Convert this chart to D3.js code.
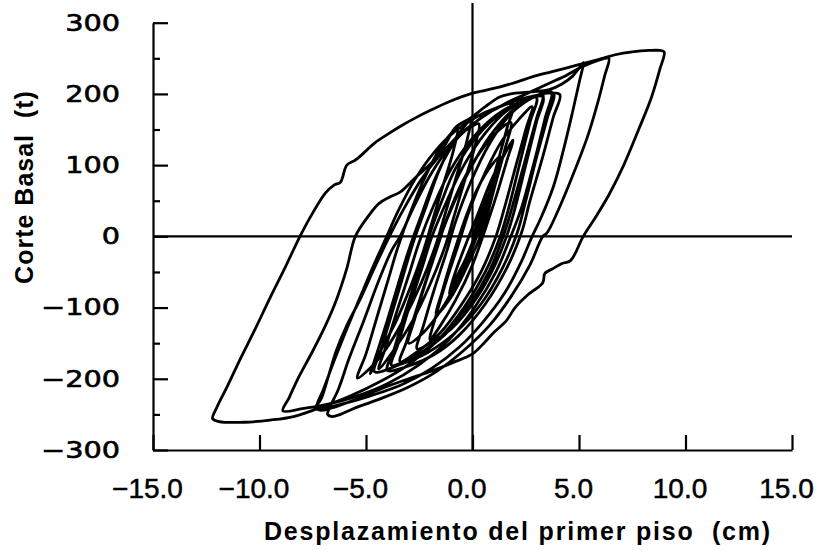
<!DOCTYPE html>
<html>
<head>
<meta charset="utf-8">
<script src="https://cdn.jsdelivr.net/npm/d3@7"></script>
<style>
  body { margin: 0; background: #fff; }
  .ytick text { font-family: "DejaVu Sans", sans-serif; font-size: 23px; stroke: #000; stroke-width: 0.6px; }
  .xtick text { font-family: "Liberation Sans", Arial, sans-serif; font-size: 28px; stroke: #000; stroke-width: 0.5px; }
  .title { font-family: "Liberation Sans", Arial, sans-serif; font-weight: bold; font-size: 25px; white-space: pre; }
</style>
</head>
<body>
<div id="chart"></div>
<script>
// Axis ticks
const yMajorTicks = [-300, -200, -100, 0, 100, 200, 300];
const yMinorTicks = [-250, -150, -50, 50, 150, 250];
const xTicks = [-15, -10, -5, 0, 5, 10, 15];

// Digitised hysteresis record, [displacement (cm), base shear (t)], in time order
const initialCycles = [
  [0.0, 0], [0.3, 25], [0.7, 55], [1.0, 75], [0.8, 55], [0.3, 15], [-0.3, -30], [-0.8, -60],
  [-1.1, -80], [-0.8, -50], [-0.3, -10], [0.3, 35], [0.9, 80], [1.5, 115], [1.9, 135], [1.6, 105],
  [1.1, 55], [0.6, 10], [0.0, -40], [-0.8, -90], [-1.5, -125], [-2.0, -145], [-1.7, -110], [-1.2, -60],
  [-0.7, -15], [-0.1, 40], [0.6, 90], [1.4, 135], [2.2, 165], [2.8, 182]
];
const rightBandCycles = [
  [2.5, 150], [2.0, 95], [1.5, 40], [1.1, 0], [0.4, -50], [-0.5, -95], [-1.5, -135], [-2.5, -160], [-3.4, -176],
  [-3.1, -148], [-2.6, -100], [-2.0, -45], [-1.5, 0], [-0.9, 45], [-0.1, 95], [0.8, 140], [1.8, 175], [2.7, 193], [3.3, 199],
  [3.0, 165], [2.5, 110], [1.9, 45], [1.5, 5], [0.8, -48], [-0.2, -98], [-1.3, -138], [-2.4, -163], [-3.2, -176], [-3.8, -181],
  [-3.5, -152], [-3.0, -102], [-2.4, -47], [-1.9, 0], [-1.2, 50], [-0.4, 100], [0.6, 145], [1.6, 176], [2.6, 193], [3.5, 201], [4.1, 199],
  [3.8, 168], [3.3, 112], [2.7, 50], [2.3, 5], [1.6, -45], [0.6, -95], [-0.6, -138], [-1.8, -166], [-3.0, -182], [-4.0, -188],
  [-3.7, -160], [-3.2, -110], [-2.6, -55], [-2.1, -5], [-1.5, 45], [-0.8, 95], [0.2, 140], [1.3, 172], [2.4, 190], [3.3, 196],
  [3.0, 160], [2.5, 100], [2.0, 40], [1.6, 0], [0.9, -50], [0.0, -95], [-1.0, -130], [-2.0, -150], [-2.6, -158]
];
const firstExcursion = [
  [-2.3, -125], [-1.8, -75], [-1.2, -20], [-0.8, 20], [-0.1, 75], [0.8, 130], [1.8, 172], [2.9, 196], [3.7, 203],
  [3.4, 165], [2.9, 105], [2.3, 40], [1.8, 0], [1.1, -50], [0.1, -100], [-1.1, -145], [-2.5, -180], [-4.0, -207],
  [-5.5, -225], [-7.0, -237], [-8.0, -242], [-8.9, -245],
  [-8.6, -226], [-8.2, -200], [-7.5, -161], [-6.9, -125], [-6.4, -90], [-5.9, -45], [-5.5, 0], [-4.9, 28],
  [-4.4, 46], [-3.9, 55], [-3.4, 62], [-2.7, 82], [-1.9, 104], [-1.3, 128], [-0.8, 153], [-0.1, 166], [0.6, 182],
  [1.3, 196], [2.0, 201], [2.8, 203], [3.6, 206], [4.2, 214], [4.7, 225], [5.0, 236], [5.2, 244]
];
const secondExcursion = [
  [5.0, 215], [4.7, 175], [4.3, 125], [3.8, 70], [3.2, 25], [2.8, 0], [2.3, -35], [1.5, -80], [0.5, -120],
  [-0.6, -155], [-1.9, -185], [-3.3, -208], [-4.8, -224], [-6.2, -236], [-7.4, -242],
  [-7.1, -228], [-6.8, -200], [-6.4, -161], [-5.9, -125], [-5.3, -90], [-4.6, -44], [-3.9, 0], [-3.2, 40],
  [-2.4, 80], [-1.5, 115], [-0.6, 143], [0.4, 166], [1.5, 186], [2.6, 201], [3.6, 215], [4.4, 226], [5.0, 236],
  [5.6, 244], [6.1, 249], [6.4, 250]
];
const thirdExcursion = [
  [6.2, 225], [5.9, 190], [5.4, 140], [4.7, 85], [4.0, 35], [3.5, 5], [3.3, 0], [2.7, -40], [1.8, -85],
  [0.8, -125], [-0.4, -160], [-1.7, -190], [-3.1, -213], [-4.5, -230], [-5.6, -242], [-6.2, -250], [-6.6, -253],
  [-6.8, -250], [-6.7, -240],
  [-6.3, -215], [-5.8, -172], [-5.1, -118], [-4.4, -62], [-3.8, -20], [-3.4, 0], [-2.7, 45], [-1.9, 90],
  [-1.0, 128], [-0.1, 155], [0.9, 176], [2.0, 190], [3.0, 198], [3.8, 201]
];
const leftBandCycles = [
  [3.5, 165], [3.0, 110], [2.5, 50], [2.1, 5], [1.4, -45], [0.4, -95], [-0.8, -135], [-2.1, -163], [-3.4, -180], [-4.6, -190],
  [-4.3, -160], [-3.8, -110], [-3.3, -60], [-2.8, -10], [-2.2, 40], [-1.6, 90], [-1.0, 128], [-0.5, 150], [-0.1, 163],
  [-0.3, 130], [-0.8, 80], [-1.3, 30], [-1.7, -10], [-2.4, -65], [-3.2, -115], [-4.1, -160], [-4.8, -185], [-5.4, -199],
  [-5.0, -165], [-4.5, -115], [-4.0, -65], [-3.5, -15], [-2.9, 35], [-2.2, 85], [-1.5, 125], [-1.0, 145], [-0.7, 153],
  [-0.9, 120], [-1.4, 70], [-1.9, 20], [-2.3, -20], [-2.9, -70], [-3.6, -120], [-4.3, -160], [-4.8, -193],
  [-4.5, -165], [-4.0, -118], [-3.5, -68], [-3.0, -20], [-2.4, 30], [-1.8, 78], [-1.2, 115], [-0.6, 142], [0.0, 155], [0.3, 158],
  [0.1, 125], [-0.4, 75], [-0.9, 25], [-1.3, -15], [-2.0, -68], [-2.8, -118], [-3.7, -160], [-4.4, -186],
  [-4.1, -158], [-3.6, -110], [-3.0, -55], [-2.5, -8], [-1.8, 45], [-1.0, 95], [0.0, 138], [1.1, 170], [2.1, 187], [3.0, 195]
];
const largestCycle = [
  [2.7, 160], [2.2, 100], [1.7, 40], [1.3, 0], [0.6, -50], [-0.4, -100], [-1.6, -145], [-3.0, -180], [-4.4, -205],
  [-5.8, -225], [-7.2, -241], [-8.4, -253], [-9.5, -258], [-10.7, -261], [-11.9, -260], [-12.2, -256],
  [-12.0, -240], [-11.5, -210], [-10.9, -172], [-10.2, -130], [-9.5, -86], [-8.8, -44], [-8.1, 0], [-7.5, 33],
  [-6.9, 61], [-6.5, 72], [-6.2, 76], [-5.9, 100], [-5.5, 107], [-5.0, 120], [-4.6, 131], [-3.9, 145], [-3.3, 156],
  [-2.7, 166], [-1.9, 178], [-1.1, 189], [-0.1, 200], [0.6, 205], [1.3, 210], [2.1, 217], [2.8, 224], [3.7, 231],
  [4.6, 238], [5.5, 245], [6.1, 250], [6.7, 255], [7.5, 259], [8.3, 261], [8.8, 261], [9.0, 259]
];
const finalCycles = [
  [8.8, 235], [8.4, 195], [7.8, 150], [7.1, 100], [6.4, 58], [5.8, 28], [5.2, 0], [4.6, -34], [4.2, -38],
  [3.8, -45], [3.4, -52], [3.3, -65], [2.6, -82], [2.0, -100], [1.6, -118], [1.0, -135], [0.5, -151], [0.0, -165],
  [-0.9, -177], [-1.9, -189], [-3.0, -200], [-4.2, -213], [-5.4, -228], [-6.6, -241], [-7.2, -244], [-7.3, -238],
  [-7.0, -215], [-6.5, -175], [-5.9, -130], [-5.2, -80], [-4.6, -38], [-4.1, -5], [-3.5, 35], [-2.7, 80],
  [-1.8, 118], [-0.8, 148], [0.2, 168], [1.1, 180], [1.9, 186],
  [1.6, 150], [1.1, 95], [0.6, 40], [0.2, 0], [-0.5, -50], [-1.4, -100], [-2.3, -135], [-3.0, -150],
  [-2.7, -115], [-2.2, -65], [-1.7, -20], [-1.2, 25], [-0.5, 75], [0.4, 120], [1.2, 148], [1.8, 160],
  [1.5, 120], [1.0, 65], [0.6, 20], [0.3, -5], [-0.3, -45], [-1.0, -85], [-1.7, -110],
  [-1.4, -75], [-0.9, -25], [-0.4, 20], [0.2, 65], [0.9, 100], [1.3, 112],
  [1.0, 75], [0.6, 30], [0.3, 0]
];

const record = [].concat(initialCycles, rightBandCycles, firstExcursion, secondExcursion,
                         thirdExcursion, leftBandCycles, largestCycle, finalCycles);

const svgWidth = 818, svgHeight = 550;
const plot = { left: 153, right: 792, top: 22.7, bottom: 450 };
const yLabelStretch = 1.25;  // the original tick font is a wide one

const svg = d3.select("#chart").append("svg")
    .attr("width", svgWidth)
    .attr("height", svgHeight)
    .style("background", "#fff");

const x = d3.scaleLinear().domain([-15, 15]).range([plot.left, plot.right]);
const y = d3.scaleLinear().domain([-300, 300]).range([plot.bottom, plot.top]);

// Zero lines
svg.append("line")
    .attr("x1", x(-15)).attr("x2", x(15))
    .attr("y1", y(0)).attr("y2", y(0))
    .attr("stroke", "#000").attr("stroke-width", 2.2);
svg.append("line")
    .attr("x1", x(0)).attr("x2", x(0))
    .attr("y1", 3).attr("y2", y(-300))
    .attr("stroke", "#000").attr("stroke-width", 2.2);

// Left axis: major ticks with labels, minor ticks without
const yAxis = svg.append("g")
    .attr("class", "ytick")
    .attr("transform", `translate(${plot.left},0)`)
    .call(d3.axisLeft(y).tickValues(yMajorTicks).tickSizeInner(-15).tickSizeOuter(0).tickPadding(33));
yAxis.selectAll("text")
    .attr("x", -33 / yLabelStretch)
    .attr("transform", `scale(${yLabelStretch},1)`);
svg.append("g")
    .attr("transform", `translate(${plot.left},0)`)
    .call(d3.axisLeft(y).tickValues(yMinorTicks).tickSizeInner(-7).tickSizeOuter(0).tickFormat(""))
    .call(g => g.select(".domain").remove());

// Bottom axis
const xAxis = svg.append("g")
    .attr("class", "xtick")
    .attr("transform", `translate(0,${plot.bottom})`)
    .call(d3.axisBottom(x).tickValues(xTicks).tickFormat(d3.format(".1f"))
        .tickSizeInner(-15).tickSizeOuter(0).tickPadding(28));
xAxis.selectAll("text").attr("dx", -6);

svg.selectAll(".domain, .tick line").attr("stroke", "#000").attr("stroke-width", 2.2);
svg.selectAll(".tick text").attr("fill", "#000");

// Hysteresis curve
const line = d3.line()
    .x(d => x(d[0]))
    .y(d => y(d[1]))
    .curve(d3.curveCatmullRom.alpha(0.5));

svg.append("path")
    .datum(record)
    .attr("d", line)
    .attr("fill", "none")
    .attr("stroke", "#000")
    .attr("stroke-width", 2.8)
    .attr("stroke-linejoin", "round");

// Axis titles
svg.append("text")
    .attr("class", "title")
    .attr("x", 518).attr("y", 540)
    .attr("text-anchor", "middle")
    .style("letter-spacing", "1.8px")
    .text("Desplazamiento del primer piso  (cm)");
svg.append("text")
    .attr("class", "title")
    .attr("transform", "translate(33,187) rotate(-90)")
    .attr("text-anchor", "middle")
    .style("letter-spacing", "1px")
    .text("Corte Basal  (t)");
</script>
</body>
</html>
